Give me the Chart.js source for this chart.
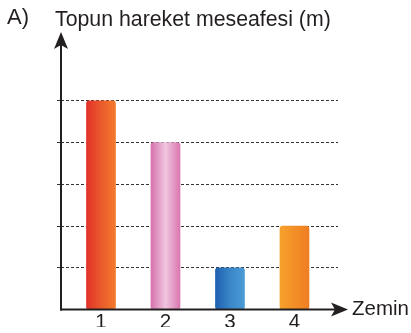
<!DOCTYPE html>
<html>
<head>
<meta charset="utf-8">
<script src="https://cdn.jsdelivr.net/npm/chart.js@4"></script>
<style>
  html, body { margin: 0; padding: 0; background: #fff; }
  #wrap { width: 411px; height: 333px; }
</style>
</head>
<body>
<div id="wrap"><canvas id="chart" width="411" height="333"></canvas></div>
<script>
// chart data
const zemin = [1, 2, 3, 4];
const mesafe = [5, 4, 1, 2];
const gridLevels = [1, 2, 3, 4, 5];
// gradient stops per bar: left, middle, right
const barColors = [
  ['#e2302a', '#ea5a2b', '#f47b2d'],
  ['#d46fab', '#f0c6df', '#d874ae'],
  ['#1d5faf', '#3a86c8', '#4c9cd6'],
  ['#f6a22b', '#f38f27', '#ee7d23']
];

const ink = '#231f20';
const fontFam = 'Liberation Sans, Arial, sans-serif';

function barGradient(context) {
  const chart = context.chart;
  if (!chart.chartArea) return barColors[context.dataIndex][0];
  const cx = chart.scales.x.getPixelForValue(zemin[context.dataIndex]);
  const g = chart.ctx.createLinearGradient(cx - 15, 0, cx + 15, 0);
  const c = barColors[context.dataIndex];
  g.addColorStop(0, c[0]);
  g.addColorStop(0.5, c[1]);
  g.addColorStop(1, c[2]);
  return g;
}

// axis lines with arrows plus labels
const axesPlugin = {
  id: 'axesArrows',
  afterDraw(chart) {
    const ctx = chart.ctx;
    const a = chart.chartArea;
    ctx.save();
    ctx.strokeStyle = ink;
    ctx.fillStyle = ink;
    ctx.lineWidth = 2;
    // y axis
    ctx.beginPath();
    ctx.moveTo(a.left, a.bottom + 1);
    ctx.lineTo(a.left, a.top + 8);
    ctx.stroke();
    ctx.beginPath();
    ctx.moveTo(a.left, a.top - 2);
    ctx.lineTo(a.left + 7, a.top + 15);
    ctx.lineTo(a.left, a.top + 11);
    ctx.lineTo(a.left - 7, a.top + 15);
    ctx.closePath();
    ctx.fill();
    // x axis
    ctx.beginPath();
    ctx.moveTo(a.left - 1, a.bottom);
    ctx.lineTo(a.right + 4, a.bottom);
    ctx.stroke();
    ctx.beginPath();
    ctx.moveTo(a.right + 10, a.bottom);
    ctx.lineTo(a.right - 7, a.bottom - 7);
    ctx.lineTo(a.right - 3, a.bottom);
    ctx.lineTo(a.right - 7, a.bottom + 7);
    ctx.closePath();
    ctx.fill();
    // texts
    ctx.textBaseline = 'middle';
    ctx.textAlign = 'left';
    ctx.font = '20.5px ' + fontFam;
    ctx.fillText('Zemin', a.right + 14, a.bottom);
    ctx.font = '21.3px ' + fontFam;
    ctx.fillText('Topun hareket meseafesi (m)', 55, 20.5);
    ctx.font = '22px ' + fontFam;
    ctx.fillText('A)', 7, 18);
    ctx.restore();
  }
};

new Chart(document.getElementById('chart'), {
  type: 'bar',
  data: {
    datasets: [{
      data: zemin.map((z, i) => ({ x: z, y: mesafe[i] })),
      backgroundColor: barGradient,
      borderWidth: 0,
      borderRadius: 3,
      borderSkipped: false,
      barThickness: 29
    }]
  },
  options: {
    responsive: false,
    animation: false,
    layout: { padding: { left: 57, right: 73, top: 34, bottom: 6 } },
    plugins: {
      legend: { display: false },
      tooltip: { enabled: false }
    },
    scales: {
      x: {
        type: 'linear',
        offset: false,
        min: 0.38,
        max: 4.675,
        afterBuildTicks: s => { s.ticks = zemin.map(v => ({ value: v })); },
        grid: { display: false },
        border: { display: false },
        ticks: {
          padding: -5.5,
          color: ink,
          font: { family: fontFam, size: 20.5, lineHeight: 1 },
          callback: v => String(v)
        }
      },
      y: {
        min: 0,
        max: 6.6,
        afterBuildTicks: s => { s.ticks = gridLevels.map(v => ({ value: v })); },
        border: { display: false, dash: [3, 2] },
        grid: {
          color: '#333',
          lineWidth: 1,
          tickLength: 4
        },
        ticks: { display: false }
      }
    }
  },
  plugins: [axesPlugin]
});
</script>
</body>
</html>
